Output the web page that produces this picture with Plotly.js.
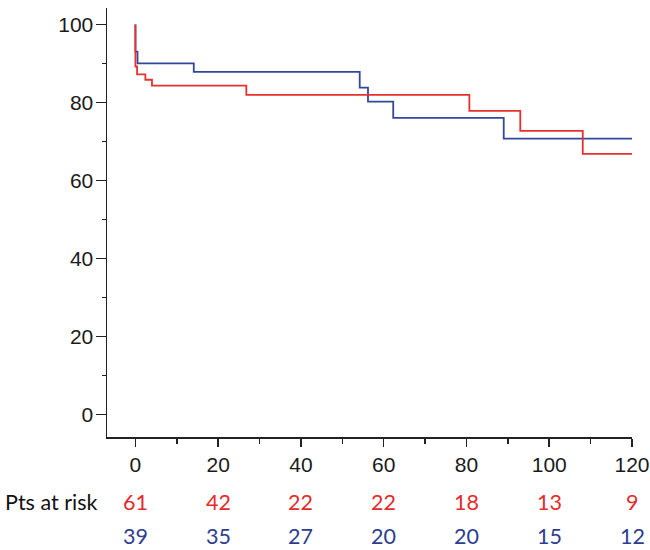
<!DOCTYPE html>
<html>
<head>
<meta charset="utf-8">
<script src="https://cdn.plot.ly/plotly-3.0.1.min.js"></script>
<style>html,body{margin:0;padding:0;background:#fff;}#chart{width:650px;height:550px;}</style>
</head>
<body>
<div id="chart"></div>
<script>
// Kaplan-Meier step data (months, % surviving)
const redTime = [0, 0, 0.4, 2.4, 4.0, 26.8, 80.7, 93.0, 108.1, 121];
const redSurv = [100, 89.2, 87.2, 85.8, 84.3, 81.9, 77.8, 72.7, 66.8, 66.8];
const blueTime = [0, 0, 0.5, 14.1, 54.2, 56.2, 62.3, 89.0, 121];
const blueSurv = [100, 93.0, 90.0, 87.8, 83.8, 80.2, 76.0, 70.7, 70.7];

// Numbers at risk
const riskTimes = [0, 20, 40, 60, 80, 100, 120];
const riskRed = [61, 42, 22, 22, 18, 13, 9];
const riskBlue = [39, 35, 27, 20, 20, 15, 12];
const riskLabel = "Pts at risk";

const xTicks = [0, 20, 40, 60, 80, 100, 120];
const yTicks = [0, 20, 40, 60, 80, 100];

const RED = '#e8312f';
const BLUE = '#34479a';
const tickFont = {family: 'Liberation Sans, Arial, sans-serif', size: 21, color: '#1a1a1a'};
const riskFont = 'Lato, Carlito, Calibri, sans-serif';

const traces = [
  {x: blueTime, y: blueSurv, mode: 'lines', line: {shape: 'hv', color: BLUE, width: 1.8}, hoverinfo: 'skip', cliponaxis: false},
  {x: redTime, y: redSurv, mode: 'lines', line: {shape: 'hv', color: RED, width: 1.8}, hoverinfo: 'skip', cliponaxis: false}
];

const annotations = [];
annotations.push({xref: 'paper', yref: 'paper', x: -0.199, y: -0.1523, xanchor: 'left', yanchor: 'middle',
  text: riskLabel, showarrow: false, font: {family: riskFont, size: 21.5, color: '#111'}});
riskTimes.forEach((t, i) => {
  annotations.push({xref: 'x', yref: 'paper', x: t, y: -0.1523, xanchor: 'center', yanchor: 'middle',
    text: String(riskRed[i]), showarrow: false, font: {family: riskFont, size: 21.5, color: '#e52b2b'}});
  annotations.push({xref: 'x', yref: 'paper', x: t, y: -0.2316, xanchor: 'center', yanchor: 'middle',
    text: String(riskBlue[i]), showarrow: false, font: {family: riskFont, size: 21.5, color: '#2e3d8f'}});
});

const layout = {
  width: 650, height: 550,
  margin: {l: 107.3, r: 18, t: 8, b: 113.3},
  paper_bgcolor: '#fff', plot_bgcolor: '#fff',
  showlegend: false,
  xaxis: {
    range: [-6.87, 120], tickvals: xTicks, ticktext: xTicks.map(String),
    ticks: 'outside', ticklen: 8, tickwidth: 1.5, tickcolor: '#222',
    minor: {tickvals: [10, 30, 50, 70, 90, 110], ticks: 'outside', ticklen: 5, tickwidth: 1.5, tickcolor: '#222'},
    showline: true, linecolor: '#222', linewidth: 1.5,
    showgrid: false, zeroline: false, tickfont: tickFont, fixedrange: true
  },
  yaxis: {
    range: [-5.83, 104.2], tickvals: yTicks, ticktext: yTicks.map(String),
    ticks: 'outside', ticklen: 10, tickwidth: 1.5, tickcolor: '#222',
    minor: {tickvals: [10, 30, 50, 70, 90], ticks: 'outside', ticklen: 4, tickwidth: 1.5, tickcolor: '#222'},
    showline: true, linecolor: '#222', linewidth: 1.5, ticklabelstandoff: -2,
    showgrid: false, zeroline: false, tickfont: tickFont, fixedrange: true
  },
  annotations: annotations
};

Plotly.newPlot('chart', traces, layout, {staticPlot: true, displayModeBar: false});
</script>
</body>
</html>
